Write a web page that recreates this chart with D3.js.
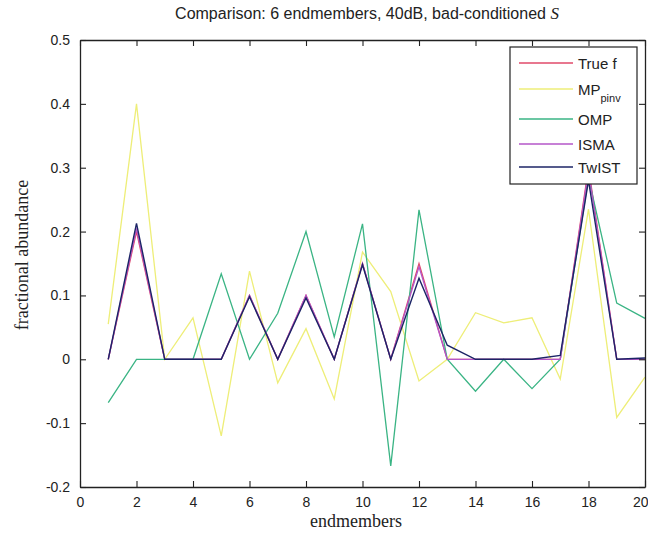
<!DOCTYPE html>
<html><head><meta charset="utf-8">
<script src="https://cdn.jsdelivr.net/npm/d3@7"></script>
<style>
html,body{margin:0;padding:0;background:#fff;}
svg{display:block;}
</style></head>
<body>
<script>
const endmembers = [1,2,3,4,5,6,7,8,9,10,11,12,13,14,15,16,17,18,19,20];
const trueF  = [0,0.2,0,0,0,0.1,0,0.1,0,0.15,0,0.15,0,0,0,0,0,0.3,0,0];
const mpPinv = [0.055,0.4,0.0,0.065,-0.12,0.138,-0.037,0.048,-0.062,0.168,0.106,-0.034,0.0,0.073,0.057,0.065,-0.031,0.235,-0.091,-0.028];
const omp    = [-0.068,0,0,0,0.134,0,0.072,0.2,0.035,0.212,-0.167,0.234,0,-0.05,0,-0.046,0,0.285,0.088,0.064];
const isma   = [0,0.205,0,0,0,0.1,0,0.1,0,0.15,0,0.145,0,0,0,0,0,0.295,0,0];
const twist  = [0,0.213,0,0,0,0.098,0,0.096,0,0.148,0,0.127,0.022,0,0,0,0.006,0.28,0,0.002];
const xTicks = [0,2,4,6,8,10,12,14,16,18,20];
const yTicks = [-0.2,-0.1,0,0.1,0.2,0.3,0.4,0.5];
const seriesNames = ["True f","MP","OMP","ISMA","TwIST"];
const seriesColors = ["#e04a6a","#eeee78","#3ab484","#b456c8","#1c2466"];
const seriesData = [trueF, mpPinv, omp, isma, twist];

const W = 648, H = 534;
const L = 80, R = 645, T = 40, B = 487;
const svg = d3.select("body").append("svg").attr("width", W).attr("height", H);
svg.append("rect").attr("width", W).attr("height", H).attr("fill", "#fff");

const x = d3.scaleLinear().domain([0,20]).range([L,R]);
const y = d3.scaleLinear().domain([-0.2,0.5]).range([B,T]);

// title
const title = svg.append("text").attr("x", 367).attr("y", 19).attr("text-anchor","middle")
  .attr("font-family","Liberation Sans, Arial, sans-serif").attr("font-size",16).attr("fill","#222");
title.append("tspan").text("Comparison: 6 endmembers, 40dB, bad-conditioned ");
title.append("tspan").attr("font-style","italic").attr("font-family","Liberation Serif, serif").attr("font-size",17).text("S");

// series lines
const line = d3.line().x((d,i)=>x(endmembers[i])).y(d=>y(d));
const g = svg.append("g");
seriesData.forEach((arr,k)=>{
  g.append("path").datum(arr).attr("d", line).attr("fill","none")
    .attr("stroke", seriesColors[k]).attr("stroke-width", k===4 ? 1.4 : 1.3)
    .attr("stroke-linejoin","miter");
});

// axes (MATLAB box style, inward ticks)
const tickFont = "Liberation Sans, Arial, sans-serif";
const fmtY = d => { const v = +(+d).toFixed(1); return (v<0?"-":"") + Math.abs(v); };
const axB = svg.append("g").attr("transform",`translate(0,${B})`)
  .call(d3.axisBottom(x).tickValues(xTicks).tickSizeInner(-6).tickSizeOuter(0).tickPadding(10).tickFormat(d3.format("d")));
const axT = svg.append("g").attr("transform",`translate(0,${T})`)
  .call(d3.axisTop(x).tickValues(xTicks).tickSizeInner(-6).tickSizeOuter(0).tickFormat(""));
const axL = svg.append("g").attr("transform",`translate(${L},0)`)
  .call(d3.axisLeft(y).tickValues(yTicks).tickSizeInner(-6).tickSizeOuter(0).tickPadding(10).tickFormat(fmtY));
const axR = svg.append("g").attr("transform",`translate(${R},0)`)
  .call(d3.axisRight(y).tickValues(yTicks).tickSizeInner(-6).tickSizeOuter(0).tickFormat(""));
[axB,axT,axL,axR].forEach(a=>{
  a.selectAll(".domain").attr("stroke","#222").attr("stroke-width",1.3);
  a.selectAll(".tick line").attr("stroke","#222").attr("stroke-width",1.1);
  a.selectAll("text").attr("font-family",tickFont).attr("font-size",14).attr("fill","#222");
});
// keep last x label inside the picture
axB.selectAll(".tick").filter(d=>d===20).select("text").attr("text-anchor","end").attr("dx", 648-R);

// axis labels
svg.append("text").attr("x", 356).attr("y", 527).attr("text-anchor","middle")
  .attr("font-family","Liberation Serif, Times New Roman, serif").attr("font-size",18).attr("fill","#222").text("endmembers");
svg.append("text").attr("transform","translate(28,255) rotate(-90)").attr("text-anchor","middle")
  .attr("font-family","Liberation Serif, Times New Roman, serif").attr("font-size",18).attr("fill","#222").text("fractional abundance");

// legend
const lg = svg.append("g");
lg.append("rect").attr("x",510).attr("y",47).attr("width",127).attr("height",137)
  .attr("fill","#fff").attr("stroke","#222").attr("stroke-width",1.2);
const rowsY = [63,89,119,144,167];
seriesNames.forEach((nm,k)=>{
  lg.append("line").attr("x1",519).attr("x2",573).attr("y1",rowsY[k]).attr("y2",rowsY[k])
    .attr("stroke",seriesColors[k]).attr("stroke-width",1.6);
  const t = lg.append("text").attr("x",578).attr("y",rowsY[k]+5.5)
    .attr("font-family",tickFont).attr("font-size",15).attr("fill","#222");
  t.append("tspan").text(nm);
  if (nm==="MP") t.append("tspan").attr("font-size",11).attr("dy",7).text("pinv");
});
</script>
</body></html>
